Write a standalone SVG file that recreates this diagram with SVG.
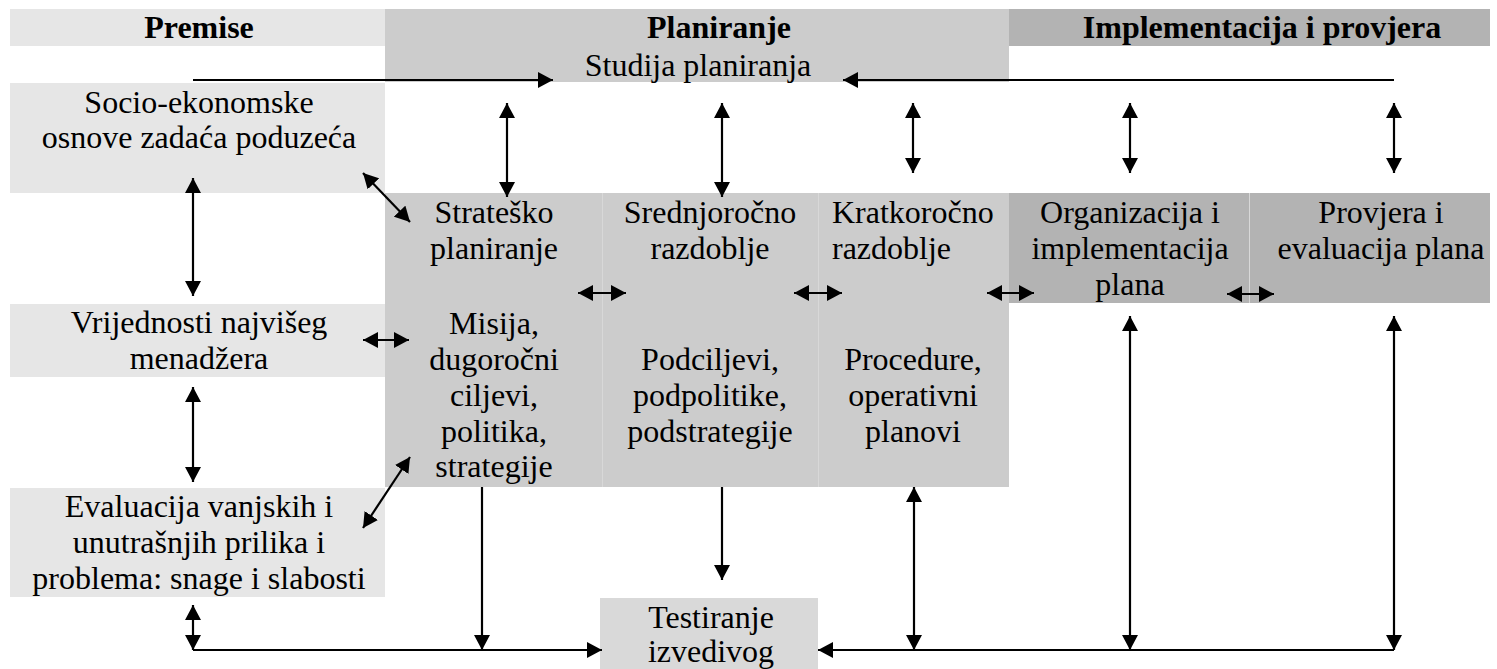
<svg xmlns="http://www.w3.org/2000/svg" width="1497" height="669" viewBox="0 0 1497 669">
  <style>
    text { font-family: "Liberation Serif", "Times New Roman", serif; font-size: 32px; fill: #000; }
    .hd { font-weight: bold; }
    .c { text-anchor: middle; }
    .l { text-anchor: start; }
    .light { fill: #e6e6e6; }
    .mid { fill: #cccccc; }
    .dark { fill: #b3b3b3; }
    .test { fill: #d9d9d9; }
    .sep { stroke: #d8d8d8; stroke-width: 1; }
    .con line { stroke: #000; stroke-width: 2.2; fill: none; }
    .one { marker-end: url(#ah); }
    .two { marker-start: url(#ah); marker-end: url(#ah); }
  </style>
  <defs>
    <marker id="ah" markerUnits="userSpaceOnUse" markerWidth="16" markerHeight="16" refX="15" refY="8" orient="auto-start-reverse">
      <path d="M0,0 L15,8 L0,16 Z" fill="#000"/>
    </marker>
  </defs>

  <rect width="1497" height="669" fill="#fff"/>

  <!-- column headers -->
  <g id="hdr-premise">
    <rect class="light" x="10" y="9" width="375" height="37"/>
    <text class="hd c" x="199" y="38">Premise</text>
  </g>
  <g id="hdr-planiranje">
    <rect class="mid" x="385" y="9" width="624" height="73"/>
    <text class="hd c" x="719" y="38">Planiranje</text>
    <text class="c" x="698" y="76">Studija planiranja</text>
  </g>
  <g id="hdr-implementacija">
    <rect class="dark" x="1009" y="9" width="481" height="37"/>
    <text class="hd c" x="1262" y="38">Implementacija i provjera</text>
  </g>

  <!-- premises column -->
  <g id="socio">
    <rect class="light" x="10" y="83" width="375" height="110"/>
    <text class="c" x="199" y="113">Socio-ekonomske</text>
    <text class="c" x="199" y="148">osnove zadaća poduzeća</text>
  </g>
  <g id="vrijednosti">
    <rect class="light" x="10" y="304" width="375" height="73"/>
    <text class="c" x="199" y="333">Vrijednosti najvišeg</text>
    <text class="c" x="199" y="369">menadžera</text>
  </g>
  <g id="evaluacija">
    <rect class="light" x="10" y="488" width="375" height="109"/>
    <text class="c" x="199" y="517">Evaluacija vanjskih i</text>
    <text class="c" x="199" y="553">unutrašnjih prilika i</text>
    <text class="c" x="199" y="589">problema: snage i slabosti</text>
  </g>

  <!-- planning columns -->
  <g id="strategijsko">
    <rect class="mid" x="385" y="193" width="217" height="294"/>
    <text class="c" x="494" y="223">Strateško</text>
    <text class="c" x="494" y="259">planiranje</text>
    <text class="c" x="494" y="334">Misija,</text>
    <text class="c" x="494" y="370">dugoročni</text>
    <text class="c" x="494" y="406">ciljevi,</text>
    <text class="c" x="494" y="442">politika,</text>
    <text class="c" x="494" y="477">strategije</text>
  </g>
  <g id="srednjorocno">
    <rect class="mid" x="602" y="193" width="216" height="294"/>
    <line class="sep" x1="602.5" y1="193" x2="602.5" y2="487"/>
    <text class="c" x="710" y="223">Srednjoročno</text>
    <text class="c" x="710" y="259">razdoblje</text>
    <text class="c" x="710" y="370">Podciljevi,</text>
    <text class="c" x="710" y="406">podpolitike,</text>
    <text class="c" x="710" y="442">podstrategije</text>
  </g>
  <g id="kratkorocno">
    <rect class="mid" x="818" y="193" width="191" height="294"/>
    <line class="sep" x1="818.5" y1="193" x2="818.5" y2="487"/>
    <text class="l" x="832" y="223">Kratkoročno</text>
    <text class="l" x="832" y="259">razdoblje</text>
    <text class="c" x="913" y="370">Procedure,</text>
    <text class="c" x="913" y="406">operativni</text>
    <text class="c" x="913" y="442">planovi</text>
  </g>

  <!-- implementation columns -->
  <g id="organizacija">
    <rect class="dark" x="1009" y="193" width="240" height="110"/>
    <text class="c" x="1130" y="223">Organizacija i</text>
    <text class="c" x="1130" y="259">implementacija</text>
    <text class="c" x="1130" y="295">plana</text>
  </g>
  <g id="provjera">
    <rect class="dark" x="1249" y="193" width="241" height="110"/>
    <line class="sep" x1="1249.5" y1="193" x2="1249.5" y2="303"/>
    <text class="c" x="1381" y="223">Provjera i</text>
    <text class="c" x="1381" y="259">evaluacija plana</text>
  </g>

  <g id="testiranje">
    <rect class="test" x="600" y="598" width="218" height="71"/>
    <text class="c" x="711" y="628">Testiranje</text>
    <text class="c" x="711" y="662">izvedivog</text>
  </g>

  <!-- connectors -->
  <g id="connectors" class="con">
    <line class="one" x1="193" y1="80" x2="553" y2="80"/>
    <line class="one" x1="1394" y1="80" x2="843" y2="80"/>

    <line class="two" x1="507" y1="103" x2="507" y2="197"/>
    <line class="two" x1="722" y1="103" x2="722" y2="197"/>
    <line class="two" x1="913" y1="103" x2="913" y2="173"/>
    <line class="two" x1="1130" y1="103" x2="1130" y2="173"/>
    <line class="two" x1="1394" y1="103" x2="1394" y2="173"/>

    <line class="two" x1="193" y1="178" x2="193" y2="296"/>
    <line class="two" x1="193" y1="387" x2="193" y2="482"/>
    <line class="two" x1="193" y1="605" x2="193" y2="650"/>

    <line class="two" x1="363" y1="173" x2="410" y2="222"/>
    <line class="two" x1="363" y1="340" x2="409" y2="340"/>
    <line class="two" x1="363" y1="528" x2="410" y2="457"/>

    <line class="two" x1="578" y1="293" x2="626" y2="293"/>
    <line class="two" x1="794" y1="293" x2="842" y2="293"/>
    <line class="two" x1="987" y1="293" x2="1034" y2="293"/>
    <line class="two" x1="1227" y1="294" x2="1274" y2="294"/>

    <line class="one" x1="482" y1="487" x2="482" y2="650"/>
    <line class="one" x1="722" y1="487" x2="722" y2="580"/>
    <line class="two" x1="914" y1="487" x2="914" y2="650"/>
    <line class="two" x1="1130" y1="316" x2="1130" y2="650"/>
    <line class="two" x1="1394" y1="316" x2="1394" y2="650"/>

    <line class="one" x1="193" y1="650" x2="602" y2="650"/>
    <line class="one" x1="1394" y1="650" x2="818" y2="650"/>
  </g>
</svg>
